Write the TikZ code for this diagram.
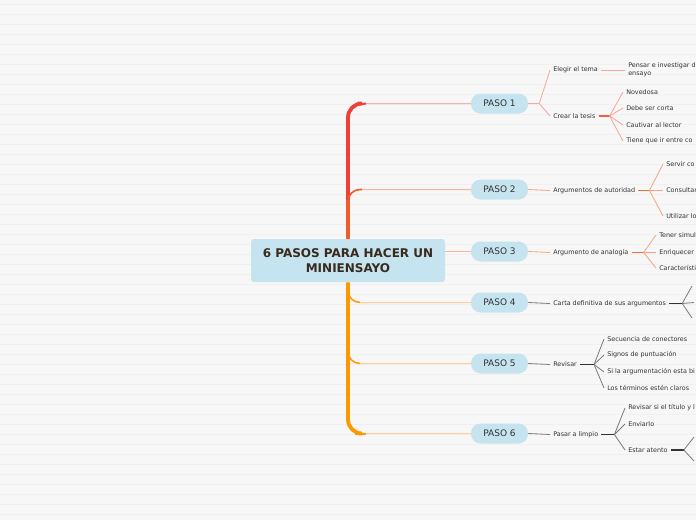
\documentclass[tikz,border=0pt]{standalone}
\usepackage{fontspec}
\setmainfont{DejaVu Sans}
\usetikzlibrary{calc}
\definecolor{bgfill}{HTML}{F7F7F7}
\definecolor{stripe}{HTML}{F0F0F0}
\definecolor{nodefill}{HTML}{C5E4F0}
\definecolor{roottext}{HTML}{3A2A1E}
\definecolor{leaftext}{HTML}{333333}
\definecolor{trunkred}{HTML}{EE4036}
\definecolor{trunkmid}{HTML}{F15A2A}
\definecolor{trunkorange}{HTML}{FF9800}
\definecolor{brpink}{HTML}{F7B3A9}
\definecolor{brsalmon}{HTML}{F8B49C}
\definecolor{brorange}{HTML}{FFCF98}
\definecolor{subpink}{HTML}{F8A59B}
\definecolor{joinpink}{HTML}{F0604D}
\definecolor{subsalmon}{HTML}{F6A47F}
\definecolor{joinsalmon}{HTML}{F26B3A}
\definecolor{subgray}{HTML}{7A7A7A}
\definecolor{joingray}{HTML}{333333}

\begin{document}
\begin{tikzpicture}[x=1pt,y=-1pt,line width=.5pt,
  root/.style={fill=nodefill,rounded corners=3pt,minimum width=194pt,minimum height=43pt,
    inner sep=0pt,align=center,text=roottext,font=\bfseries\fontsize{12}{15}\selectfont},
  paso/.style={fill=nodefill,rounded corners=9.5pt,minimum width=57pt,minimum height=20pt,
    inner sep=0pt,text=leaftext,font=\fontsize{9}{11}\selectfont},
  leaf/.style={anchor=west,inner sep=3pt,yshift=-1pt,align=left,text=leaftext,font=\fontsize{6.4}{8}\selectfont},
  trunk/.style={line width=3.8pt},
  branch/.style={line width=1pt},
  sub1/.style={draw=subpink,line width=.8pt},
  join1/.style={draw=joinpink,line width=1.6pt},
  sub2/.style={draw=subsalmon,line width=.8pt},
  join2/.style={draw=joinsalmon,line width=1.6pt},
  sub3/.style={draw=subgray,line width=.8pt},
  join3/.style={draw=joingray,line width=1.6pt}]
\path[use as bounding box] (0,0) rectangle (696,520);
\clip (0,0) rectangle (696,520);
\fill[bgfill] (0,0) rectangle (696,520);
\foreach \y in {4,14,...,514} \draw[stripe,line width=1pt] (0,\y) -- (696,\y);

% main topic and steps
\node[root] (root) at (348,260.5) {6 PASOS PARA HACER UN\\MINIENSAYO};
\node[paso] (p1) at (499.5,103.5) {PASO 1};
\node[paso] (p2) at (499.5,189.5) {PASO 2};
\node[paso] (p3) at (499.5,251.5) {PASO 3};
\node[paso] (p4) at (499.5,302.5) {PASO 4};
\node[paso] (p5) at (499.5,363.5) {PASO 5};
\node[paso] (p6) at (499.5,433.5) {PASO 6};

% connectors from the main topic
\draw[branch,brpink,rounded corners=14pt] (root.north) |- (p1.west);
\draw[branch,brsalmon,rounded corners=12pt] (root.north) |- (p2.west);
\draw[branch,brsalmon] (root.east |- p3.west) -- (p3.west);
\draw[branch,brorange,rounded corners=12pt] (root.south) |- (p4.west);
\draw[branch,brorange,rounded corners=12pt] (root.south) |- (p5.west);
\draw[branch,brorange,rounded corners=14pt] (root.south) |- (p6.west);
\draw[trunk,trunkred,rounded corners=14pt] (root.north) |- (358,103.5);
\draw[line width=2pt,trunkred,rounded corners=6pt] (355,105) -- (366,103.5);
\draw[line width=1.6pt,trunkmid,rounded corners=12pt] (348,212) |- (362,189.5);
\draw[trunk,trunkmid] (root.north) -- (348,200);
\draw[trunk,trunkorange,rounded corners=14pt] (root.south) |- (358,433.5);
\draw[line width=2pt,trunkorange] (355,433.5) -- (366,433.5);
\draw[line width=1.4pt,trunkorange,rounded corners=12pt] (348,285) |- (360,302.5);
\draw[line width=1.4pt,trunkorange,rounded corners=12pt] (348,346) |- (360,363.5);

% PASO 1
\node[leaf] (elegir) at (550,69) {Elegir el tema};
\node[leaf] (crear) at (550,115) {Crear la tesis};
\node[leaf] (pensar) at (625,69) {Pensar e investigar d\\ensayo};
\node[leaf] (novedosa) at (623,91) {Novedosa};
\node[leaf] (corta) at (623,107) {Debe ser corta};
\node[leaf] (cautivar) at (623,124) {Cautivar al lector};
\node[leaf] (tiene) at (623,140) {Tiene que ir entre co};
\draw[join1,draw=subpink,line width=1.2pt] (p1.east) -- ++(11,0) coordinate (j1);
\draw[sub1] (j1) -- (elegir.west);
\draw[sub1] (j1) -- (crear.west);
\draw[sub1] (elegir.east) -- (pensar.west);
\draw[join1] (crear.east) -- ++(11,0) coordinate (j11);
\foreach \n in {novedosa,corta,cautivar,tiene} \draw[sub1] (j11) -- (\n.west);

% PASO 2
\node[leaf] (autoridad) at (550,189.5) {Argumentos de autoridad};
\node[leaf] (servir) at (663,163) {Servir co};
\node[leaf] (consultar) at (663,189.5) {Consultar};
\node[leaf] (utilizar) at (663,215) {Utilizar lo};
\draw[sub2] (p2.east) -- (autoridad.west);
\draw[join2] (autoridad.east) -- ++(11,0) coordinate (j2);
\foreach \n in {servir,consultar,utilizar} \draw[sub2] (j2) -- (\n.west);

% PASO 3
\node[leaf] (analogia) at (550,251.5) {Argumento de analogía};
\node[leaf] (tener) at (656,234) {Tener simul};
\node[leaf] (enriquecer) at (656,251.5) {Enriquecer};
\node[leaf] (caract) at (656,267) {Característi};
\draw[sub2] (p3.east) -- (analogia.west);
\draw[join2] (analogia.east) -- ++(12,0) coordinate (j3);
\foreach \n in {tener,enriquecer,caract} \draw[sub2] (j3) -- (\n.west);

% PASO 4
\node[leaf] (carta) at (550,302.5) {Carta definitiva de sus argumentos};
\coordinate (c41) at (692,286);
\coordinate (c42) at (694,302.5);
\coordinate (c43) at (692,318);
\draw[sub3] (p4.east) -- (carta.west);
\draw[join3] (carta.east) -- ++(13,0) coordinate (j4);
\foreach \n in {c41,c42,c43} \draw[sub3] (j4) -- (\n);

% PASO 5
\node[leaf] (revisar) at (550,363.5) {Revisar};
\node[leaf] (secuencia) at (604,338) {Secuencia de conectores};
\node[leaf] (signos) at (604,354) {Signos de puntuación};
\node[leaf] (silaarg) at (604,371) {Si la argumentación esta bi};
\node[leaf] (terminos) at (604,387) {Los términos estén claros};
\draw[sub3] (p5.east) -- (revisar.west);
\draw[join3] (revisar.east) -- ++(14,0) coordinate (j5);
\foreach \n in {secuencia,signos,silaarg,terminos} \draw[sub3] (j5) -- (\n.west);

% PASO 6
\node[leaf] (limpio) at (550,433.5) {Pasar a limpio};
\node[leaf] (titulo) at (625,407) {Revisar si el título y l};
\node[leaf] (enviarlo) at (625,423) {Enviarlo};
\node[leaf] (atento) at (625,449) {Estar atento};
\coordinate (c61) at (694,437);
\coordinate (c62) at (694,461);
\draw[sub3] (p6.east) -- (limpio.west);
\draw[join3] (limpio.east) -- ++(13,0) coordinate (j6);
\foreach \n in {titulo,enviarlo,atento} \draw[sub3] (j6) -- (\n.west);
\draw[join3] (atento.east) -- ++(13,0) coordinate (j61);
\foreach \n in {c61,c62} \draw[sub3] (j61) -- (\n);
\end{tikzpicture}
\end{document}
